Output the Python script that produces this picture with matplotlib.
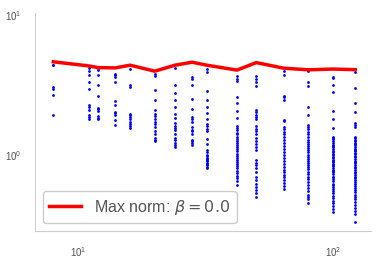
import matplotlib
matplotlib.use('Agg')
import matplotlib.pyplot as plt

plt.rcParams['font.family'] = ['Liberation Sans', 'DejaVu Sans']

# grid sizes (x) and the max norm line
sizes = [8, 11, 12, 14, 16, 20, 24, 28, 32, 42, 50, 64, 80, 100, 122]
max_norm = [4.62, 4.32, 4.2, 4.18, 4.37, 3.96, 4.37, 4.59, 4.37, 4.03, 4.56, 4.16, 4.05, 4.1, 4.06]

# per-size error values (blue dots)
err_8 = [4.4, 4.35, 3.05, 2.95, 2.67, 1.93]
err_11 = [4.16, 3.98, 3.70, 3.29, 2.94, 2.27, 2.19, 2.10, 1.93, 1.86, 1.81]
err_12 = [4.2, 4.05, 3.7, 3.15, 2.64, 2.16, 2.12, 2.06, 1.89, 1.84, 1.79]
err_14 = [3.8, 3.7, 3.6, 3.31, 2.41, 2.28, 2.04, 2.0, 1.93, 1.76, 1.63]
err_16 = [4.1, 3.15, 3.06, 1.97, 1.92, 1.87, 1.80, 1.73, 1.67, 1.61, 1.56]
err_20 = [3.79, 3.67, 2.90, 2.47, 2.10, 1.97, 1.88, 1.80, 1.72, 1.65, 1.57, 1.48,
          1.41, 1.33, 1.28, 1.25]
err_24 = [4.16, 3.15, 2.78, 2.47, 2.21, 1.96, 1.82, 1.69, 1.61, 1.56, 1.51, 1.41,
          1.33, 1.28, 1.21, 1.17, 1.14]
err_28 = [3.6, 3.46, 3.18, 2.50, 2.13, 1.85, 1.80, 1.73, 1.57, 1.51, 1.48, 1.42,
          1.28, 1.25, 1.22, 1.18]
err_32 = [4.12, 3.91, 2.85, 2.46, 2.21, 2.0, 1.80, 1.66, 1.60, 1.53, 1.47, 1.30,
          1.19, 1.09, 1.05, 1.0, 0.98, 0.95, 0.93, 0.92, 0.90, 0.88, 0.86, 0.84, 0.82, 0.80]
err_42 = [3.67, 3.51, 3.38, 2.61, 2.34, 2.07, 1.83, 1.60, 1.55, 1.50, 1.44, 1.40,
          1.35, 1.30, 1.26, 1.22, 1.18, 1.14, 1.10, 1.06, 1.02, 0.98, 0.95, 0.92,
          0.89, 0.86, 0.83, 0.80, 0.77, 0.74, 0.71, 0.68, 0.65, 0.61]
err_50 = [3.67, 3.48, 3.3, 3.12, 2.10, 2.02, 1.94, 1.87, 1.80, 1.60, 1.54, 1.47,
          1.40, 1.32, 1.26, 1.20, 1.14, 1.08, 0.92, 0.88, 0.84, 0.80, 0.76, 0.70,
          0.66, 0.62, 0.59, 0.56, 0.53, 0.50]
err_64 = [4.0, 3.7, 2.62, 2.58, 2.47, 1.78, 1.75, 1.58, 1.52, 1.46, 1.40, 1.34,
          1.28, 1.22, 1.16, 1.10, 1.05, 1.0, 0.95, 0.90, 0.86, 0.82, 0.78, 0.75,
          0.72, 0.69, 0.66, 0.63, 0.60, 0.57]
err_80 = [4.0, 3.3, 3.12, 2.21, 1.93, 1.64, 1.58, 1.52, 1.46, 1.40, 1.34, 1.28,
          1.24, 1.20, 1.16, 1.12, 1.08, 1.04, 1.0, 0.97, 0.94, 0.91, 0.88, 0.85,
          0.82, 0.79, 0.76, 0.73, 0.70, 0.67, 0.64, 0.61, 0.58, 0.55, 0.52, 0.50,
          0.48, 0.45]
err_100 = [3.6, 3.52, 3.13, 2.8, 2.07, 1.79, 1.55, 1.35, 1.31, 1.29, 1.25, 1.22,
           1.18, 1.16, 1.13, 1.10, 1.07, 1.05, 1.02, 1.0, 0.97, 0.95, 0.92, 0.91,
           0.89, 0.86, 0.85, 0.83, 0.81, 0.78, 0.77, 0.75, 0.73, 0.70, 0.69, 0.67,
           0.65, 0.62, 0.61, 0.59, 0.57, 0.55, 0.53, 0.51, 0.49, 0.47, 0.45, 0.43,
           0.41, 0.39]
err_122 = [4.1, 3.92, 2.98, 2.34, 2.04, 1.70, 1.63, 1.59, 1.35, 1.32, 1.28, 1.26,
           1.22, 1.19, 1.17, 1.14, 1.11, 1.08, 1.06, 1.03, 1.01, 0.98, 0.96, 0.93,
           0.91, 0.89, 0.87, 0.84, 0.82, 0.80, 0.78, 0.76, 0.74, 0.72, 0.70, 0.68,
           0.66, 0.64, 0.62, 0.60, 0.58, 0.56, 0.54, 0.52, 0.50, 0.48, 0.46, 0.44,
           0.42, 0.40, 0.38, 0.33]

errors = [err_8, err_11, err_12, err_14, err_16, err_20, err_24, err_28, err_32,
          err_42, err_50, err_64, err_80, err_100, err_122]

fig = plt.figure(figsize=(3.76, 2.61), dpi=100)
ax = fig.add_axes([0.093, 0.115, 0.894, 0.835])

for n, errs in zip(sizes, errors):
    ax.scatter([n] * len(errs), errs, s=4, color='blue', linewidths=0, zorder=2)

ax.plot(sizes, max_norm, color='red', lw=2.5, label=r'Max norm: $\beta = 0.0$', zorder=3)

ax.set_xscale('log')
ax.set_yscale('log')
ax.set_xlim(6.78, 141)
ax.set_ylim(0.286, 10.3)
ax.set_xticks([10, 100])
ax.set_yticks([1, 10])
ax.minorticks_off()
ax.tick_params(length=0, pad=10, labelsize=7, labelcolor='#555555')

for side in ['top', 'right']:
    ax.spines[side].set_visible(False)
for side in ['left', 'bottom']:
    ax.spines[side].set_color('#cccccc')

leg = ax.legend(loc='lower left', fontsize=11.5, labelcolor='#555555', framealpha=1)
leg.get_frame().set_edgecolor('#cccccc')

fig.savefig('out.png', dpi=100)
